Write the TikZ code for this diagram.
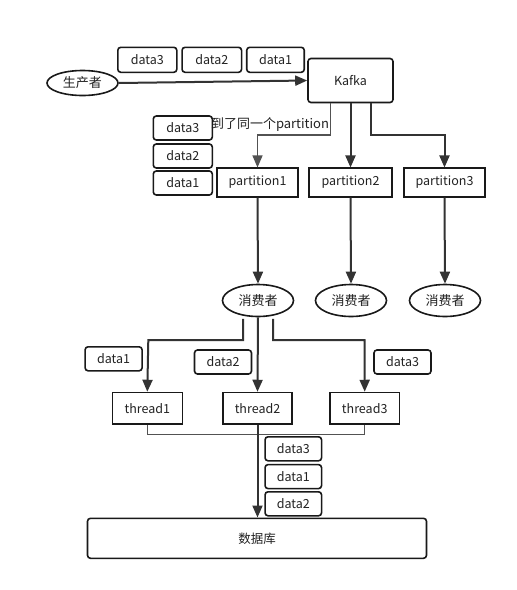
\documentclass[tikz,border=0pt]{standalone}
\usepackage{fontspec}
\setmainfont{Noto Sans CJK SC}
\usetikzlibrary{arrows.meta,shapes.geometric}
\definecolor{ln}{HTML}{333333}
\definecolor{txt}{HTML}{222222}
\tikzset{
  box/.style={draw=black!90, line width=1.6pt, inner sep=0pt, anchor=center, font=\fontsize{12.5}{14}\selectfont, text=txt},
  rbox/.style={box, rounded corners=3pt},
  ell/.style={draw=black!90, line width=1.6pt, ellipse, inner sep=0pt, font=\fontsize{13}{14}\selectfont, text=txt},
  conn/.style={draw=ln, line width=2pt},
  thin/.style={draw=ln!85, line width=1.3pt},
  arr/.style={-{Triangle[length=12pt,width=10pt]}},
}
\begin{document}
\begin{tikzpicture}[x=1pt,y=-1pt]
\useasboundingbox[fill=white] (0,0) rectangle (517,590);
% top
\node[ell, minimum width=71pt, minimum height=25pt] (prod) at (82.5,83) {生产者};
\node[rbox, minimum width=85pt, minimum height=44pt] (kafka) at (350.5,80.5) {Kafka};
\node[rbox, minimum width=59pt, minimum height=25pt] (t3) at (147.3,59.8) {data3};
\node[rbox, minimum width=59.5pt, minimum height=25pt] (t2) at (211.8,59.8) {data2};
\node[rbox, minimum width=57.5pt, minimum height=25pt] (t1) at (275.5,59.8) {data1};
\draw[conn,arr] (prod.east) -- (kafka.west);
% partitions
\node[box, minimum width=81.5pt, minimum height=28.5pt] (p1) at (257.5,182.5) {partition1};
\node[box, minimum width=82.5pt, minimum height=28.5pt] (p2) at (350.5,182.5) {partition2};
\node[box, minimum width=81pt, minimum height=28.5pt] (p3) at (444.5,182.5) {partition3};
\coordinate (k1) at (330.5,102.5);
\coordinate (k3) at (370.5,102.5);
\draw[thin,arr] (k1) |- (257.5,135) -- (p1.north);
\draw[conn,arr] (kafka.south) -- (p2.north);
\draw[conn,arr] (k3) |- (444.5,135) -- (p3.north);
\node[anchor=center, inner sep=0pt, font=\fontsize{13}{14}\selectfont, text=txt] (lbl) at (270,125) {到了同一个partition};
\node[rbox, minimum width=59pt, minimum height=24pt] (l3) at (182.8,128) {data3};
\node[rbox, minimum width=59pt, minimum height=24pt] (l2) at (182.8,156) {data2};
\node[rbox, minimum width=59pt, minimum height=24pt] (l1) at (182.8,183) {data1};
% consumers
\node[ell, minimum width=71pt, minimum height=32pt] (c1) at (258,300.5) {消费者};
\node[ell, minimum width=71pt, minimum height=32pt] (c2) at (351,300.5) {消费者};
\node[ell, minimum width=71pt, minimum height=32pt] (c3) at (445,300.5) {消费者};
\draw[conn,arr] (p1.south) -- (c1.north);
\draw[conn,arr] (p2.south) -- (c2.north);
\draw[conn,arr] (p3.south) -- (c3.north);
% threads
\node[box, minimum width=70pt, minimum height=31.5pt] (th1) at (147.3,408.3) {thread1};
\node[box, minimum width=69.5pt, minimum height=31.5pt] (th2) at (257.5,408.3) {thread2};
\node[box, minimum width=69.5pt, minimum height=31.5pt] (th3) at (364.7,408.3) {thread3};
\draw[conn,arr] ([xshift=-15pt,yshift=-1.5pt]c1.south) |- (148.3,340) -- (th1.north);
\draw[conn,arr] (c1.south) -- (th2.north);
\draw[conn,arr] ([xshift=15pt,yshift=-1.5pt]c1.south) |- (364.5,340) -- (th3.north);
\node[rbox, minimum width=57pt, minimum height=24pt] (d1) at (113.6,358.8) {data1};
\node[rbox, minimum width=57pt, minimum height=24pt] (d2) at (223,362) {data2};
\node[rbox, minimum width=57pt, minimum height=24pt] (d3) at (402.5,362) {data3};
% database
\node[rbox, minimum width=339pt, minimum height=40pt] (db) at (257,538.3) {数据库};
\draw[thin] (th1.south) -- ++(0,9.5) -| (th3.south);
\draw[conn,arr] (th2.south) -- (th2.south |- db.north);
\node[rbox, minimum width=56.5pt, minimum height=24pt] (b3) at (293.3,448.8) {data3};
\node[rbox, minimum width=56.5pt, minimum height=24pt] (b1) at (293.3,476.6) {data1};
\node[rbox, minimum width=56.5pt, minimum height=24pt] (b2) at (293.3,503.8) {data2};
\end{tikzpicture}
\end{document}
